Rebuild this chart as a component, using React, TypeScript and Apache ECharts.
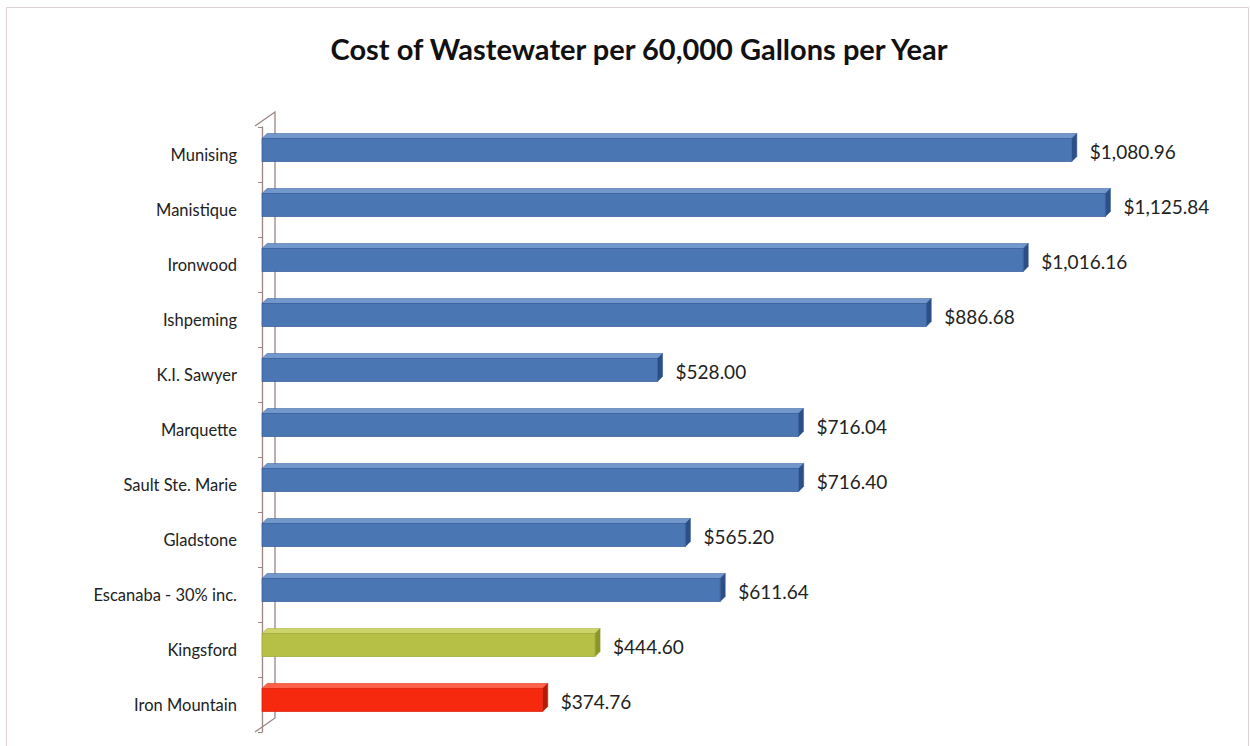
import React, { useEffect, useRef } from "react";
import * as echarts from "echarts";

const categories = [
  "Munising",
  "Manistique",
  "Ironwood",
  "Ishpeming",
  "K.I. Sawyer",
  "Marquette",
  "Sault Ste. Marie",
  "Gladstone",
  "Escanaba - 30% inc.",
  "Kingsford",
  "Iron Mountain",
];
const costs = [1080.96, 1125.84, 1016.16, 886.68, 528.0, 716.04, 716.4, 565.2, 611.64, 444.6, 374.76];
const barKinds = ["blue", "blue", "blue", "blue", "blue", "blue", "blue", "blue", "blue", "green", "red"];

const palette: Record<string, { front: string; top: string; side: string; edge: string }> = {
  blue: { front: "#4a76b3", top: "#7297cb", side: "#2b4f86", edge: "#34599a" },
  green: { front: "#b6c046", top: "#ccd46a", side: "#8c9628", edge: "#9ea834" },
  red: { front: "#f6280e", top: "#ff6148", side: "#b41a06", edge: "#d42008" },
};

const fmt = (v: number) =>
  "$" + v.toLocaleString("en-US", { minimumFractionDigits: 2, maximumFractionDigits: 2 });

export default function App() {
  const ref = useRef<HTMLDivElement>(null);
  useEffect(() => {
    document.body.style.margin = "0";
    const chart = echarts.init(ref.current!, null, { renderer: "svg" });
    const wallColor = "#9c8484";
    chart.setOption({
      animation: false,
      backgroundColor: "#ffffff",
      title: {
        text: "Cost of Wastewater per 60,000 Gallons per Year",
        left: 634,
        top: 29,
        textAlign: "center",
        textStyle: { fontFamily: "Lato", fontWeight: "bold", fontSize: 29, color: "#111" },
      },
      graphic: [
        {
          type: "rect",
          shape: { x: 6.5, y: 7.5, width: 1242, height: 745 },
          style: { fill: "none", stroke: "#ddd3d3", lineWidth: 1 },
          z: 0,
        },
        {
          type: "polyline",
          shape: { points: [[255, 126], [275, 112], [275, 718], [255, 732]] },
          style: { fill: "none", stroke: wallColor, lineWidth: 1.3 },
          z: 0,
        },
      ],
      grid: { left: 262, right: 89, top: 127, bottom: 14 },
      xAxis: {
        type: "value",
        min: 0,
        max: 1200,
        show: false,
      },
      yAxis: {
        type: "category",
        data: categories,
        inverse: true,
        offset: 7,
        axisLine: { show: true, lineStyle: { color: wallColor, width: 1.3 } },
        axisTick: { show: true, length: 4, lineStyle: { color: wallColor } },
        axisLabel: { margin: 18, fontFamily: "Lato", fontSize: 16.5, color: "#222" },
        splitLine: { show: false },
      },
      series: [
        {
          type: "custom",
          z: 5,
          encode: { x: 0, y: 1 },
          data: costs.map((v, i) => [v, i]),
          renderItem: (params: any, api: any) => {
            const val = api.value(0);
            const idx = api.value(1);
            const start = api.coord([0, idx]);
            const end = api.coord([val, idx]);
            const cy = start[1];
            const x0 = start[0];
            const x1 = end[0];
            const ft = cy - 16;
            const fb = cy + 7;
            const d = 5;
            const c = palette[barKinds[params.dataIndex]];
            return {
              type: "group",
              children: [
                {
                  type: "polygon",
                  shape: { points: [[x0, ft], [x0 + d, ft - d], [x1 + d, ft - d], [x1, ft]] },
                  style: { fill: c.top, stroke: c.edge, lineWidth: 0.5 },
                },
                {
                  type: "polygon",
                  shape: { points: [[x1, ft], [x1 + d, ft - d], [x1 + d, fb - d], [x1, fb]] },
                  style: { fill: c.side, stroke: c.side, lineWidth: 0.5 },
                },
                {
                  type: "rect",
                  shape: { x: x0, y: ft, width: x1 - x0, height: fb - ft },
                  style: { fill: c.front, stroke: c.edge, lineWidth: 0.7 },
                },
                {
                  type: "text",
                  style: {
                    text: fmt(val),
                    x: x1 + 18,
                    y: (ft + fb) / 2 + 1,
                    verticalAlign: "middle",
                    textAlign: "left",
                    fontFamily: "Lato",
                    fontSize: 19,
                    fill: "#222",
                  },
                },
              ],
            };
          },
        },
      ],
    });
    return () => chart.dispose();
  }, []);
  return (
    <div
      ref={ref}
      style={{ position: "absolute", left: 0, top: 0, width: 1250, height: 746 }}
    />
  );
}
